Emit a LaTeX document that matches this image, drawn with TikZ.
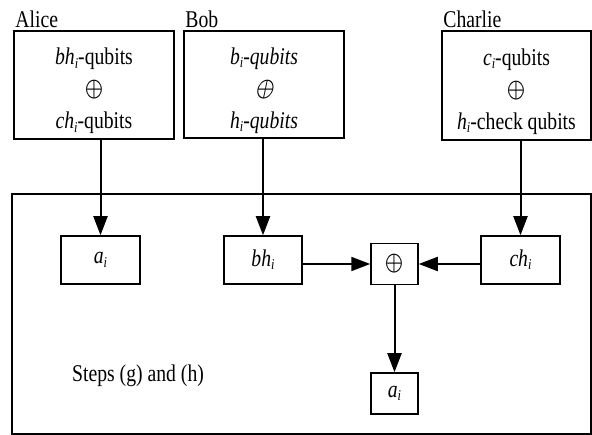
\documentclass[tikz,border=0pt]{standalone}
\usepackage{fontspec}
\setmainfont[FakeStretch=0.82]{Liberation Serif}
\newfontfamily\lmsym{latinmodern-math.otf}
\newfontfamily\lmslsym[FakeSlant=0.25]{latinmodern-math.otf}
\usetikzlibrary{arrows.meta,positioning}
\newcommand{\idx}[2]{\textit{#1}\raisebox{-0.3ex}{\fontsize{15}{15}\selectfont\textit{#2}}}
\newcommand{\xorsym}{\scalebox{1}[1.2]{\lmsym\fontsize{23}{23}\selectfont ⊕}}
\newcommand{\xorsl}{\scalebox{1}[1.2]{\lmslsym\fontsize{23}{23}\selectfont ⊕}}

\begin{document}
\begin{tikzpicture}[x=1pt,y=-1pt,
    font=\fontsize{24}{32}\selectfont,
    party/.style={draw, line width=1.5pt, inner sep=0pt},
    qubits/.style={align=center, inner sep=0pt, yshift=-6pt},
    reg/.style={draw, line width=1.5pt, inner sep=0pt},
    who/.style={anchor=base west, inner sep=0pt, xshift=2pt, yshift=3pt},
    flow/.style={line width=2pt, -{Triangle[length=19pt,width=14pt]}}]
    \useasboundingbox (0,0) rectangle (592,435);

    % Parties
    \node[party, minimum width=160pt, minimum height=108pt] (alice) at (94,85) {};
    \node[party, minimum width=160pt, minimum height=107pt] (bob) at (264,84.5) {};
    \node[party, minimum width=149pt, minimum height=109pt] (charlie) at (516.5,85.5) {};
    \node[qubits] (aliceq) at (alice.center)
        {\idx{bh}{i}-qubits\\ \xorsym\\ \idx{ch}{i}-qubits};
    \node[qubits] (bobq) at (bob.center)
        {\itshape \idx{b}{i}-qubits\\ \xorsl\\ \itshape \idx{h}{i}-qubits};
    \node[qubits] (charlieq) at (charlie.center)
        {\idx{c}{i}-qubits\\ \xorsym\\ \idx{h}{i}-check qubits};
    \node[who] at (alice.north west) {Alice};
    \node[who] at (bob.north west) {Bob};
    \node[who] at (charlie.north west) {Charlie};

    % Steps (g) and (h)
    \draw[line width=2.5pt] (12,194) rectangle (591,434);
    \node[reg, minimum width=79pt, minimum height=48pt] (ai) at (100.5,260) {\idx{a}{i}};
    \node[reg, minimum width=78pt, minimum height=48pt] (bh) at (263,260) {\idx{bh}{i}};
    \node[reg, minimum width=79pt, minimum height=48pt] (ch) at (520.5,260) {\idx{ch}{i}};
    \node[reg, minimum width=47pt, minimum height=41pt] (xor) at (394.5,264) {\xorsym};
    \node[reg, minimum width=47pt, minimum height=41pt] (out) at (394.5,393.5) {\idx{a}{i}};
    \node[anchor=base west, inner sep=0pt] (steps) at (72,382) {Steps (g) and (h)};

    % Arrows
    \draw[flow] (alice.south -| ai) -- (ai);
    \draw[flow] (bob.south -| bh) -- (bh);
    \draw[flow] (charlie.south -| ch) -- (ch);
    \draw[flow] (bh.east |- xor) -- (xor);
    \draw[flow] (ch.west |- xor) -- (xor);
    \draw[flow] (xor) -- (out);
\end{tikzpicture}
\end{document}
